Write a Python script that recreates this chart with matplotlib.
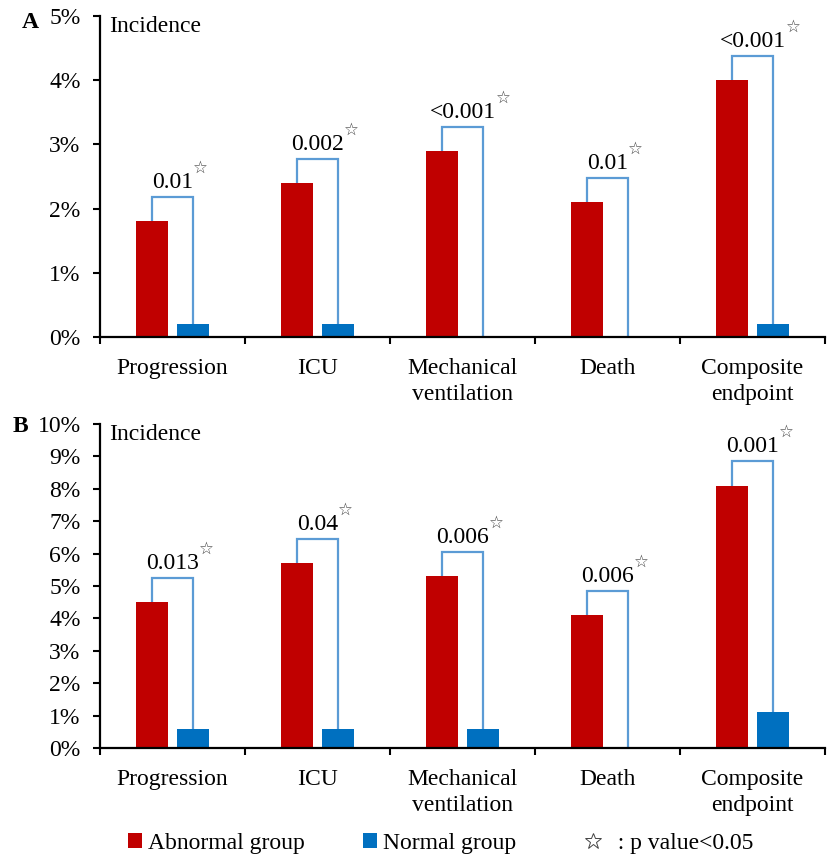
import numpy as np
import matplotlib
matplotlib.use('Agg')
import matplotlib.pyplot as plt
from matplotlib.patches import Patch
from matplotlib.lines import Line2D

# Serif font like Times, DejaVu as fallback for the star glyph
plt.rcParams['font.family'] = ['Liberation Serif', 'DejaVu Sans']

categories = ['Progression', 'ICU', 'Mechanical\nventilation', 'Death', 'Composite\nendpoint']

# Panel A
abnormal_a = [1.8, 2.4, 2.9, 2.1, 4.0]
normal_a = [0.2, 0.2, 0.0, 0.0, 0.2]
pvals_a = ['0.01', '0.002', '<0.001', '0.01', '<0.001']
yticks_a = [0, 1, 2, 3, 4, 5]

# Panel B
abnormal_b = [4.5, 5.7, 5.3, 4.1, 8.1]
normal_b = [0.6, 0.6, 0.6, 0.0, 1.1]
pvals_b = ['0.013', '0.04', '0.006', '0.006', '0.001']
yticks_b = [0, 1, 2, 3, 4, 5, 6, 7, 8, 9, 10]

RED = '#C00000'
BLUE = '#0070C0'
LINE = '#5B9BD5'
FS = 17


def draw_panel(ax, abnormal, normal, pvals, yticks):
    x = np.arange(len(categories))
    w = 0.22
    off = 0.142
    ymax = yticks[-1]
    ax.bar(x - off, abnormal, w, color=RED, zorder=2)
    ax.bar(x + off, normal, w, color=BLUE, zorder=2)

    gap = ymax * 0.075
    for i in range(len(x)):
        top = abnormal[i] + gap
        ax.plot([x[i] - off, x[i] - off, x[i] + off, x[i] + off],
                [abnormal[i], top, top, normal[i]],
                color=LINE, lw=1.6, zorder=1, solid_joinstyle='miter')
        t = ax.annotate(pvals[i], xy=(x[i], top), xytext=(0, 3),
                        textcoords='offset points', ha='center', va='bottom',
                        fontsize=FS)
        ax.annotate('\u2606', xy=(1, 1), xycoords=t, xytext=(0, 3),
                    textcoords='offset points', ha='left', va='center',
                    fontsize=12, color='#444444', family='DejaVu Sans')

    ax.set_xlim(-0.5, len(categories) - 0.5)
    ax.set_ylim(0, ymax)
    ax.set_yticks(yticks)
    ax.set_yticklabels([f'{v}%' for v in yticks], fontsize=FS)

    # category boundaries as major ticks, names on minor ticks
    ax.set_xticks(np.arange(-0.5, len(categories), 1))
    ax.set_xticklabels([])
    ax.set_xticks(x, minor=True)
    ax.set_xticklabels(categories, minor=True, fontsize=FS, linespacing=1.3)
    ax.tick_params(axis='x', which='minor', length=0, pad=15)
    ax.tick_params(axis='both', which='major', length=5, width=1.5,
                   direction='out', colors='black')
    ax.tick_params(axis='y', pad=9)

    for s in ['top', 'right']:
        ax.spines[s].set_visible(False)
    for s in ['left', 'bottom']:
        ax.spines[s].set_linewidth(1.6)

    ax.text(0.013, 1.0, 'Incidence', transform=ax.transAxes,
            ha='left', va='top', fontsize=FS)


fig = plt.figure(figsize=(8.3, 8.56), dpi=100)
ax_a = fig.add_axes([100 / 830, 1 - 337 / 856, 725 / 830, 321 / 856])
ax_b = fig.add_axes([100 / 830, 1 - 748 / 856, 725 / 830, 324 / 856])

draw_panel(ax_a, abnormal_a, normal_a, pvals_a, yticks_a)
draw_panel(ax_b, abnormal_b, normal_b, pvals_b, yticks_b)

fig.text(22 / 830, 1 - 22 / 856, 'A', fontsize=FS, fontweight='bold',
         ha='left', va='center')
fig.text(13 / 830, 1 - 426 / 856, 'B', fontsize=FS, fontweight='bold',
         ha='left', va='center')

handles = [
    Patch(facecolor=RED, label='Abnormal group'),
    Patch(facecolor=BLUE, label='Normal group  '),
    Line2D([], [], ls='none', marker='*', markersize=12, mfc='white',
           mec='#444444', mew=0.7, label='  : p value<0.05'),
]
fig.legend(handles=handles, loc='center left',
           bbox_to_anchor=(128 / 830, 1 - 843 / 856), ncol=3, frameon=False,
           fontsize=FS, handlelength=0.6, handleheight=0.6,
           handletextpad=0.25, columnspacing=2.45, borderpad=0,
           borderaxespad=0)

fig.savefig('out.png', dpi=100)
